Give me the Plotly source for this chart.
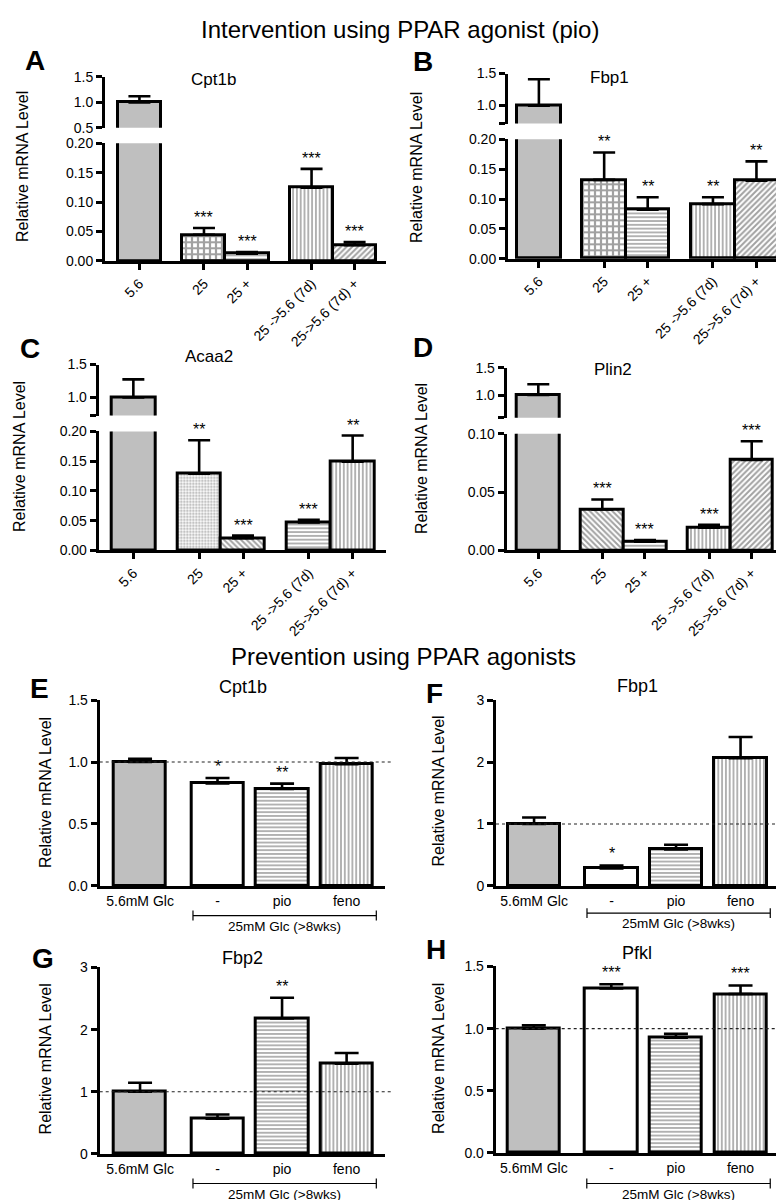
import plotly.graph_objects as go

W, H = 784, 1200

# ------------------------------------------------------------------ data
cats_top = ["5.6", "25", "25 +", "25 ->5.6 (7d)", "25->5.6 (7d) +"]
groups_top = [0, 1, 1, 2, 2]

cpt1b_a = [1.0, 0.0445, 0.0125, 0.1245, 0.027]
cpt1b_a_err = [0.12, 0.0115, 0.0025, 0.032, 0.005]
cpt1b_a_sig = ["", "***", "***", "***", "***"]

fbp1_b = [1.0, 0.132, 0.082, 0.0915, 0.1305]
fbp1_b_err = [0.41, 0.046, 0.021, 0.0115, 0.0325]
fbp1_b_sig = ["", "**", "**", "**", "**"]

acaa2_c = [1.0, 0.129, 0.0205, 0.047, 0.149]
acaa2_c_err = [0.275, 0.056, 0.0045, 0.0045, 0.044]
acaa2_c_sig = ["", "**", "***", "***", "**"]

plin2_d = [1.0, 0.0352, 0.0076, 0.0194, 0.0775]
plin2_d_err = [0.2, 0.0085, 0.0014, 0.0026, 0.016]
plin2_d_sig = ["", "***", "***", "***", "***"]

cats_bot = ["5.6mM Glc", "-", "pio", "feno"]
groups_bot = [0, 1, 1, 1]
bracket_label = "25mM Glc (>8wks)"

cpt1b_e = [1.0, 0.828, 0.783, 0.982]
cpt1b_e_err = [0.025, 0.043, 0.043, 0.051]
cpt1b_e_sig = ["", "*", "**", ""]

fbp1_f = [1.0, 0.281, 0.59, 2.06]
fbp1_f_err = [0.105, 0.05, 0.074, 0.345]
fbp1_f_sig = ["", "*", "", ""]

fbp2_g = [1.0, 0.566, 2.18, 1.45]
fbp2_g_err = [0.145, 0.069, 0.333, 0.174]
fbp2_g_sig = ["", "", "**", ""]

pfkl_h = [1.0, 1.323, 0.926, 1.278]
pfkl_h_err = [0.026, 0.034, 0.032, 0.069]
pfkl_h_sig = ["", "***", "", "***"]

title_top = "Intervention using PPAR agonist (pio)"
title_bot = "Prevention using PPAR agonists"
ylabel = "Relative mRNA Level"

# ------------------------------------------------------------------ style
BLACK = "#000000"
GRAY = "#bfbfbf"
WHITE = "#ffffff"
FONT = "Liberation Sans, Arial, sans-serif"
LW = 3

def fx(px):
    return px / W

def fy(py):
    return 1 - py / H

def positions(groups, gap):
    return [i + gap * g for i, g in enumerate(groups)]

fig = go.Figure()
layout = {}
annotations = []
shapes = []

PAT_SIZE = {"+": 6, ".": 3, "/": 4, "\\": 4, "-": 3.8, "|": 3.8, "": 4}
PAT_SOL = {"+": 0.6, ".": 0.4, "/": 0.5, "\\": 0.5, "-": 0.42, "|": 0.42, "": 0.3}

def bar(x, vals, errs, fills, pats, xa, ya, width, capw):
    return go.Bar(
        x=x, y=vals, width=width, xaxis=xa, yaxis=ya,
        marker=dict(color=fills, line=dict(color=BLACK, width=LW),
                    pattern=dict(shape=pats, fgcolor=BLACK, bgcolor=fills,
                                 size=[PAT_SIZE[s] for s in pats],
                                 solidity=[PAT_SOL[s] for s in pats])),
        error_y=dict(type="data", symmetric=False, array=errs,
                     arrayminus=[0] * len(errs), color=BLACK,
                     thickness=2.6, width=capw),
        hoverinfo="skip", showlegend=False)

def ax_common():
    return dict(showline=True, linecolor=BLACK, linewidth=LW, showgrid=False,
                zeroline=False, ticks="outside", ticklen=6, tickwidth=LW,
                tickcolor=BLACK, tickfont=dict(family=FONT, size=14, color=BLACK))

def add_text(x, y, text, size, bold=False, angle=0, xanchor="center", yanchor="middle"):
    annotations.append(dict(
        x=fx(x), y=fy(y), xref="paper", yref="paper", text=("<b>%s</b>" % text) if bold else text,
        showarrow=False, textangle=angle, xanchor=xanchor, yanchor=yanchor,
        font=dict(family=FONT, size=size, color=BLACK)))

# ---------------------------------------------------------- top panels A-D
top_panels = [
    dict(letter="A", name="Cpt1b", vals=cpt1b_a, errs=cpt1b_a_err, sig=cpt1b_a_sig,
         pats=["", "+", "-", "|", "/"],
         xpx=(97, 378), xr=(-0.8, 5.73),
         lo_px=(248.3, 129), lo_r=(0, 0.2), lo_t=[0, 0.05, 0.1, 0.15, 0.2],
         up_px=(113.3, 61.7), up_r=(0.5, 1.5), up_t=[0.5, 1.0, 1.5], up_lbl=["0.5", "1.0", "1.5"],
         letter_xy=(27, 45), title_xy=(205, 64), ylab_xy=(15, 153), n=1),
    dict(letter="B", name="Fbp1", vals=fbp1_b, errs=fbp1_b_err, sig=fbp1_b_sig,
         pats=["", "+", "-", "|", "/"],
         xpx=(500, 775), xr=(-0.71, 5.61),
         lo_px=(246, 125), lo_r=(0, 0.2), lo_t=[0, 0.05, 0.1, 0.15, 0.2],
         up_px=(109, 58.3), up_r=(0.72, 1.5), up_t=[0.72, 1.0, 1.5], up_lbl=["", "1.0", "1.5"],
         letter_xy=(415, 46), title_xy=(601, 62), ylab_xy=(409, 153), n=2),
    dict(letter="C", name="Acaa2", vals=acaa2_c, errs=acaa2_c_err, sig=acaa2_c_sig,
         pats=["", ".", "\\", "-", "|"],
         xpx=(90.7, 378), xr=(-0.79, 5.76),
         lo_px=(541.7, 421), lo_r=(0, 0.2), lo_t=[0, 0.05, 0.1, 0.15, 0.2],
         up_px=(405, 353.3), up_r=(0.725, 1.5), up_t=[0.725, 1.0, 1.5], up_lbl=["", "1.0", "1.5"],
         letter_xy=(22, 337), title_xy=(201, 345), ylab_xy=(11, 447), n=3),
    dict(letter="D", name="Plin2", vals=plin2_d, errs=plin2_d_err, sig=plin2_d_sig,
         pats=["", "\\", "-", "|", "/"],
         xpx=(498.7, 778.7), xr=(-0.74, 5.82),
         lo_px=(541.7, 423.3), lo_r=(0, 0.1), lo_t=[0, 0.05, 0.1],
         up_px=(407.3, 356.7), up_r=(0.58, 1.5), up_t=[0.58, 1.0, 1.5], up_lbl=["", "1.0", "1.5"],
         letter_xy=(415, 336), title_xy=(605, 358), ylab_xy=(413, 449), n=4),
]

for p in top_panels:
    n = p["n"]
    xa = "x" if n == 1 else "x%d" % n
    ylo_i, yup_i = 2 * n - 1, 2 * n
    ylo = "y" if ylo_i == 1 else "y%d" % ylo_i
    yup = "y%d" % yup_i
    xs = positions(groups_top, 0.5)
    fills = [GRAY if g == 0 else WHITE for g in groups_top]
    for ya in (ylo, yup):
        fig.add_trace(bar(xs, p["vals"], p["errs"], fills, p["pats"], xa, ya, 1.0, 11))
    xk = "xaxis" if n == 1 else "xaxis%d" % n
    xd = ax_common()
    xd.update(domain=[fx(p["xpx"][0]), fx(p["xpx"][1])], range=list(p["xr"]),
              anchor=ylo, tickmode="array", tickvals=xs, ticktext=cats_top,
              tickangle=-45)
    layout[xk] = xd
    ld = ax_common()
    ld.update(domain=[fy(p["lo_px"][0]), fy(p["lo_px"][1])], range=list(p["lo_r"]),
              anchor=xa, tickmode="array", tickvals=p["lo_t"],
              ticktext=["%.2f" % v for v in p["lo_t"]])
    layout["yaxis" if ylo_i == 1 else "yaxis%d" % ylo_i] = ld
    ud = ax_common()
    ud.update(domain=[fy(p["up_px"][0]), fy(p["up_px"][1])], range=list(p["up_r"]),
              anchor=xa, tickmode="array", tickvals=p["up_t"], ticktext=p["up_lbl"])
    layout["yaxis%d" % yup_i] = ud
    for xv, v, e, s in zip(xs, p["vals"], p["errs"], p["sig"]):
        if s:
            annotations.append(dict(x=xv, y=v + e, xref=xa, yref=ylo, text=s,
                                    showarrow=False, yanchor="bottom", yshift=0,
                                    font=dict(family=FONT, size=16, color=BLACK)))
    add_text(*p["letter_xy"], p["letter"], 28, bold=True)
    add_text(*p["title_xy"], p["name"], 17)
    add_text(*p["ylab_xy"], ylabel, 16, angle=-90)

# ------------------------------------------------------ bottom panels E-H
bot_panels = [
    dict(letter="E", name="Cpt1b", vals=cpt1b_e, errs=cpt1b_e_err, sig=cpt1b_e_sig,
         xpx=(91.7, 376.7), xr=(-0.625, 3.79), ypx=(881.7, 693.3), yr=(0, 1.5),
         yt=[0, 0.5, 1.0, 1.5], fmt="%.1f", brk_y=911.7, dot_x1=1.03,
         letter_xy=(32, 682), title_xy=(235, 680), ylab_xy=(37.5, 787), n=5),
    dict(letter="F", name="Fbp1", vals=fbp1_f, errs=fbp1_f_err, sig=fbp1_f_sig,
         xpx=(488, 770), xr=(-0.59, 3.78), ypx=(881.7, 693.3), yr=(0, 3),
         yt=[0, 1, 2, 3], fmt="%d", brk_y=909.3, dot_x1=1.05,
         letter_xy=(426, 687), title_xy=(629, 679), ylab_xy=(431, 786), n=6),
    dict(letter="G", name="Fbp2", vals=fbp2_g, errs=fbp2_g_err, sig=fbp2_g_sig,
         xpx=(91.7, 376.7), xr=(-0.625, 3.79), ypx=(1153.3, 964.3), yr=(0, 3),
         yt=[0, 1, 2, 3], fmt="%d", brk_y=1183.3, dot_x1=1.03,
         letter_xy=(35, 955), title_xy=(234, 955), ylab_xy=(37.5, 1057), n=7),
    dict(letter="H", name="Pfkl", vals=pfkl_h, errs=pfkl_h_err, sig=pfkl_h_sig,
         xpx=(487.7, 770), xr=(-0.59, 3.78), ypx=(1152.3, 963.3), yr=(0, 1.5),
         yt=[0, 0.5, 1.0, 1.5], fmt="%.1f", brk_y=1183.3, dot_x1=1.05,
         letter_xy=(428, 946), title_xy=(629, 950), ylab_xy=(431, 1057), n=8),
]

for p in bot_panels:
    n = p["n"]
    xa = "x%d" % n
    yi = n + 4
    ya = "y%d" % yi
    xs = positions(groups_bot, 0.2)
    fills = [GRAY if g == 0 else WHITE for g in groups_bot]
    pats = ["", "", "-", "|"]
    fig.add_trace(bar(xs, p["vals"], p["errs"], fills, pats, xa, ya, 0.81, 12))
    xd = ax_common()
    xd.update(domain=[fx(p["xpx"][0]), fx(p["xpx"][1])], range=list(p["xr"]),
              anchor=ya, tickmode="array", tickvals=xs, ticktext=cats_bot,
              ticks="", tickfont=dict(family=FONT, size=14, color=BLACK))
    layout["xaxis%d" % n] = xd
    yd = ax_common()
    yd.update(domain=[fy(p["ypx"][0]), fy(p["ypx"][1])], range=list(p["yr"]),
              anchor=xa, tickmode="array", tickvals=p["yt"],
              ticktext=[p["fmt"] % v for v in p["yt"]])
    layout["yaxis%d" % yi] = yd
    for xv, v, e, s in zip(xs, p["vals"], p["errs"], p["sig"]):
        if s:
            annotations.append(dict(x=xv, y=v + e, xref=xa, yref=ya, text=s,
                                    showarrow=False, yanchor="bottom", yshift=1,
                                    font=dict(family=FONT, size=16, color=BLACK)))
    # reference line at 1
    shapes.append(dict(type="line", xref="%s domain" % xa, yref=ya, x0=0, x1=p["dot_x1"],
                       y0=1, y1=1, line=dict(color="#222222", width=1.2, dash="dot"),
                       layer="above"))
    # bracket under the 25 mM groups
    bx0 = xs[1] - 0.38
    bx1 = xs[-1] + 0.46
    by = fy(p["brk_y"])
    tick = 5 / H
    shapes.append(dict(type="line", xref=xa, yref="paper", x0=bx0, x1=bx1, y0=by, y1=by,
                       line=dict(color=BLACK, width=1.2)))
    for bx in (bx0, bx1):
        shapes.append(dict(type="line", xref=xa, yref="paper", x0=bx, x1=bx,
                           y0=by - tick, y1=by + tick, line=dict(color=BLACK, width=1.2)))
    annotations.append(dict(x=(bx0 + bx1) / 2, y=by - 1 / H, xref=xa, yref="paper",
                            text=bracket_label, showarrow=False, yanchor="top",
                            font=dict(family=FONT, size=13.5, color=BLACK)))
    add_text(*p["letter_xy"], p["letter"], 28, bold=True)
    add_text(*p["title_xy"], p["name"], 18)
    add_text(*p["ylab_xy"], ylabel, 16, angle=-90)

add_text(392, 14, title_top, 24)
add_text(396, 649, title_bot, 24)

fig.update_layout(
    width=W, height=H, margin=dict(l=0, r=0, t=0, b=0),
    paper_bgcolor=WHITE, plot_bgcolor=WHITE, showlegend=False,
    annotations=annotations, shapes=shapes, bargap=0,
    font=dict(family=FONT, color=BLACK), **layout)

fig.write_html("out.html")
